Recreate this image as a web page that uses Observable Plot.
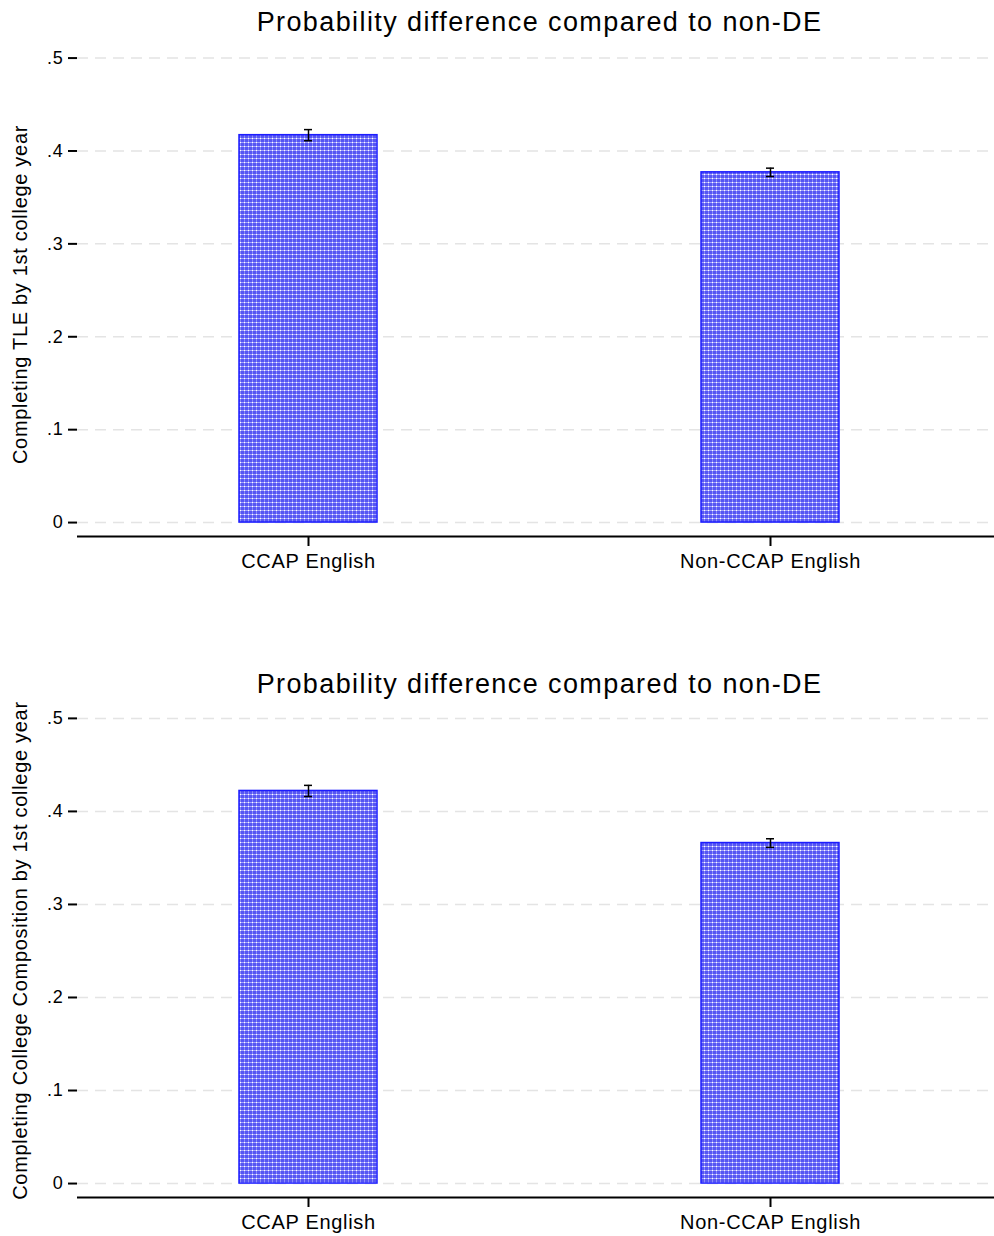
<!DOCTYPE html>
<html><head><meta charset="utf-8">
<script src="https://cdn.jsdelivr.net/npm/d3@7"></script>
<script src="https://cdn.jsdelivr.net/npm/@observablehq/plot@0.6"></script>
<style>
body{margin:0;background:#fff;font-family:"Liberation Sans",Arial,sans-serif;}
#wrap{position:relative;width:994px;height:1236px;overflow:hidden;background:#fff}
.title{position:absolute;left:81px;width:917px;text-align:center;font-size:27px;line-height:27px;letter-spacing:1.4px;color:#000;white-space:nowrap;z-index:2}
.panel{position:absolute;left:0;z-index:1}
</style></head><body>
<svg width="0" height="0" style="position:absolute">
  <defs>
    <pattern id="barpat" width="4" height="4" patternUnits="userSpaceOnUse">
      <rect width="4" height="4" fill="#5656f3"/>
      <rect y="0" width="4" height="1" fill="#a4a4fb"/>
      <rect x="0" width="1" height="4" fill="#8c8cf9"/>
      <rect width="1" height="1" fill="#ffffff"/>
    </pattern>
  </defs>
</svg>
<div id="wrap"></div>
<script>
const categories = ["CCAP English", "Non-CCAP English"];
const panelTitles = ["Probability difference compared to non-DE", "Probability difference compared to non-DE"];
const yLabels = ["Completing TLE by 1st college year", "Completing College Composition by 1st college year"];
const tleValues = [0.417, 0.377];
const tleErrors = [0.006, 0.0045];
const compValues = [0.422, 0.366];
const compErrors = [0.006, 0.0046];
const yTicks = [0, 0.1, 0.2, 0.3, 0.4, 0.5];

const panels = [
  {values: tleValues, errors: tleErrors, title: panelTitles[0], ylabel: yLabels[0], top: 42, height: 539, marginTop: 10, marginBottom: 45, ymax: 0.506, titleTop: 9},
  {values: compValues, errors: compErrors, title: panelTitles[1], ylabel: yLabels[1], top: 690, height: 546, marginTop: 13, marginBottom: 39, ymax: 0.516, titleTop: 671}
];

const fmt = d => d === 0 ? "0" : d.toFixed(1).replace(/^0/, "");
const wrap = document.getElementById("wrap");

panels.forEach(p => {
  const data = categories.map((c, i) => ({cat: c, v: p.values[i], lo: p.values[i] - p.errors[i], hi: p.values[i] + p.errors[i]}));

  const chart = Plot.plot({
    width: 994,
    height: p.height,
    marginLeft: 77,
    marginRight: 0,
    marginTop: p.marginTop,
    marginBottom: p.marginBottom,
    style: {fontFamily: "Liberation Sans, Arial, sans-serif", background: "transparent", color: "#000", overflow: "visible"},
    x: {domain: categories, range: [77, 1001], padding: 0, label: null},
    y: {domain: [-0.015, p.ymax], label: null},
    marks: [
      Plot.gridY(yTicks, {stroke: "#e4e4e4", strokeOpacity: 1, strokeWidth: 1.5, strokeDasharray: "11,7"}),
      Plot.barY(data, {x: "cat", y1: 0, y2: "v", fill: "url(#barpat)", stroke: "#1c1cff", strokeWidth: 1.5, insetLeft: 162, insetRight: 162}),
      Plot.ruleX(data, {x: "cat", y1: "lo", y2: "hi", stroke: "#000", strokeWidth: 1.5}),
      Plot.tickY(data, {x: "cat", y: "lo", stroke: "#000", strokeWidth: 1.5, insetLeft: 227, insetRight: 227}),
      Plot.tickY(data, {x: "cat", y: "hi", stroke: "#000", strokeWidth: 1.5, insetLeft: 227, insetRight: 227}),
      Plot.ruleY([-0.015], {stroke: "#000", strokeWidth: 2}),
      Plot.axisY(yTicks, {tickSize: 9, tickPadding: 5, fontSize: 18, strokeWidth: 2, tickFormat: fmt, label: null, line: true}),
      Plot.axisX({tickSize: 10, tickPadding: 7, fontSize: 20, strokeWidth: 2, label: null}),
      Plot.text([p.ylabel], {text: d => d, frameAnchor: "left", textAnchor: "middle", lineAnchor: "middle", rotate: -90, dx: -57, fontSize: 20})
    ]
  });
  chart.classList.add("panel");
  chart.style.top = p.top + "px";
  chart.style.letterSpacing = "0.7px";
  wrap.appendChild(chart);

  const t = document.createElement("div");
  t.className = "title";
  t.style.top = p.titleTop + "px";
  t.textContent = p.title;
  wrap.appendChild(t);
});
</script>
</body></html>
